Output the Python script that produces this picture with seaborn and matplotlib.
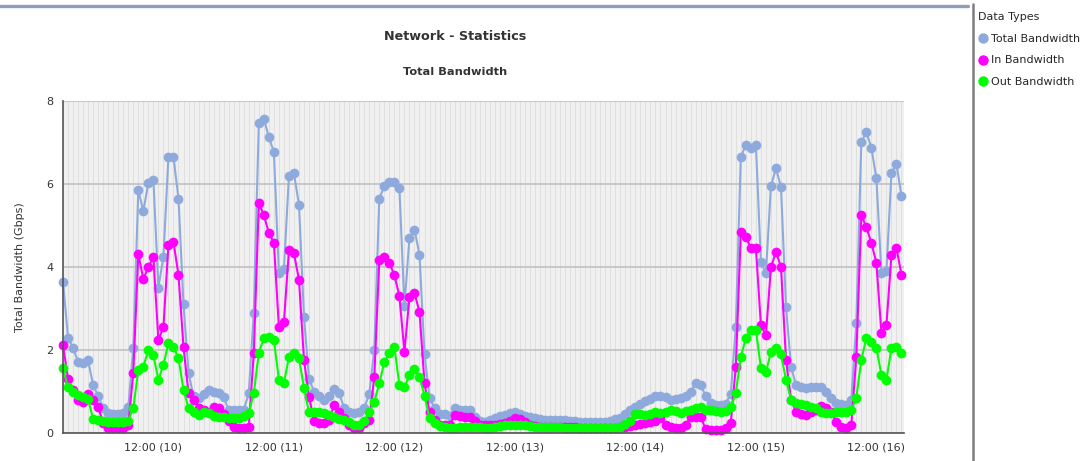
import pandas as pd
import matplotlib
matplotlib.use("Agg")
import matplotlib.pyplot as plt
import matplotlib.dates as mdates
from matplotlib.lines import Line2D
from matplotlib.ticker import FuncFormatter
import seaborn as sns

# hourly samples, one week starting 18:00 on day 9
start_time = "2013-06-09 18:00"

total_bw = [
    3.65, 2.3, 2.05, 1.72, 1.68, 1.75, 1.15, 0.9, 0.6, 0.48,
    0.45, 0.45, 0.47, 0.62, 2.05, 5.85, 5.35, 6.02, 6.1, 3.5,
    4.25, 6.65, 6.65, 5.65, 3.1, 1.45, 0.88, 0.84, 0.95, 1.04,
    1.0, 0.96, 0.87, 0.55, 0.55, 0.55, 0.55, 0.96, 2.9, 7.47,
    7.57, 7.13, 6.77, 3.85, 3.95, 6.2, 6.26, 5.5, 2.8, 1.3,
    1.0, 0.9, 0.8, 0.9, 1.05, 0.96, 0.6, 0.5, 0.48, 0.5,
    0.6, 0.95, 2.0, 5.65, 5.95, 6.05, 6.05, 5.9, 3.05, 4.7,
    4.9, 4.3, 1.9, 0.85, 0.6, 0.45, 0.45, 0.4, 0.6, 0.55,
    0.55, 0.55, 0.38, 0.3, 0.27, 0.32, 0.36, 0.4, 0.43, 0.47,
    0.5, 0.45, 0.4, 0.38, 0.36, 0.34, 0.32, 0.31, 0.31, 0.31,
    0.31, 0.29, 0.28, 0.27, 0.27, 0.27, 0.27, 0.27, 0.27, 0.3,
    0.33, 0.36, 0.45, 0.55, 0.62, 0.7, 0.78, 0.82, 0.9, 0.9,
    0.87, 0.8, 0.82, 0.84, 0.9, 0.99, 1.2, 1.15, 0.9, 0.72,
    0.68, 0.67, 0.7, 0.95, 2.55, 6.65, 6.94, 6.87, 6.94, 4.12,
    3.85, 5.95, 6.38, 5.93, 3.04, 1.6, 1.15, 1.1, 1.08, 1.1,
    1.1, 1.1, 0.98, 0.85, 0.72, 0.7, 0.67, 0.8, 2.65, 7.01,
    7.25, 6.87, 6.14, 3.85, 3.9, 6.26, 6.48, 5.71,
]

in_bw = [
    2.12, 1.3, 1.04, 0.8, 0.75, 0.95, 0.8, 0.62, 0.25, 0.13,
    0.12, 0.12, 0.13, 0.2, 1.45, 4.31, 3.71, 4.0, 4.24, 2.24,
    2.55, 4.53, 4.6, 3.81, 2.07, 0.96, 0.8, 0.6, 0.55, 0.5,
    0.62, 0.6, 0.45, 0.3, 0.15, 0.12, 0.12, 0.15, 1.93, 5.54,
    5.25, 4.82, 4.58, 2.55, 2.67, 4.41, 4.33, 3.69, 1.76, 0.87,
    0.3, 0.24, 0.24, 0.31, 0.67, 0.5, 0.35, 0.2, 0.12, 0.12,
    0.24, 0.31, 1.35, 4.17, 4.24, 4.1, 3.8, 3.3, 1.95, 3.28,
    3.37, 2.92, 1.2, 0.5, 0.31, 0.2, 0.19, 0.19, 0.43, 0.4,
    0.38, 0.38, 0.3, 0.2, 0.19, 0.19, 0.2, 0.22, 0.24, 0.3,
    0.36, 0.33, 0.27, 0.2, 0.16, 0.15, 0.15, 0.15, 0.15, 0.15,
    0.15, 0.15, 0.15, 0.12, 0.12, 0.12, 0.12, 0.12, 0.12, 0.12,
    0.13, 0.15, 0.15, 0.17, 0.19, 0.22, 0.24, 0.26, 0.3, 0.36,
    0.2, 0.15, 0.13, 0.12, 0.2, 0.38, 0.38, 0.38, 0.1, 0.07,
    0.07, 0.07, 0.12, 0.24, 1.6, 4.84, 4.72, 4.46, 4.46, 2.6,
    2.36, 4.0, 4.36, 4.0, 1.76, 0.8, 0.5, 0.45, 0.43, 0.5,
    0.55, 0.65, 0.6, 0.5, 0.27, 0.15, 0.12, 0.19, 1.83, 5.25,
    4.96, 4.58, 4.1, 2.41, 2.6, 4.29, 4.46, 3.81,
]

out_bw = [
    1.57, 1.1, 0.99, 0.92, 0.87, 0.82, 0.33, 0.31, 0.28, 0.27,
    0.27, 0.27, 0.27, 0.3, 0.6, 1.52, 1.6, 2.0, 1.88, 1.28,
    1.64, 2.17, 2.07, 1.8, 1.04, 0.6, 0.5, 0.43, 0.5, 0.48,
    0.42, 0.38, 0.38, 0.36, 0.36, 0.36, 0.4, 0.48, 0.96, 1.93,
    2.29, 2.31, 2.24, 1.28, 1.2, 1.83, 1.93, 1.8, 1.08, 0.5,
    0.5, 0.5, 0.48, 0.43, 0.38, 0.33, 0.31, 0.27, 0.2, 0.19,
    0.3, 0.5, 0.75, 1.2, 1.7, 1.93, 2.07, 1.15, 1.1, 1.4,
    1.55, 1.35, 0.9, 0.35, 0.24, 0.18, 0.15, 0.12, 0.13, 0.14,
    0.15, 0.15, 0.15, 0.14, 0.13, 0.12, 0.14, 0.17, 0.19, 0.19,
    0.19, 0.19, 0.19, 0.17, 0.15, 0.15, 0.15, 0.15, 0.15, 0.15,
    0.13, 0.12, 0.12, 0.12, 0.12, 0.12, 0.12, 0.12, 0.12, 0.12,
    0.12, 0.15, 0.22, 0.3, 0.45, 0.45, 0.43, 0.45, 0.5, 0.48,
    0.5, 0.55, 0.52, 0.48, 0.52, 0.55, 0.6, 0.62, 0.55, 0.55,
    0.52, 0.5, 0.52, 0.62, 0.96, 1.83, 2.29, 2.48, 2.48, 1.57,
    1.47, 1.95, 2.05, 1.9, 1.28, 0.8, 0.72, 0.7, 0.67, 0.63,
    0.6, 0.5, 0.48, 0.48, 0.5, 0.5, 0.5, 0.55, 0.84, 1.76,
    2.29, 2.19, 2.05, 1.4, 1.28, 2.05, 2.07, 1.93,
]

series_names = ["Total Bandwidth", "In Bandwidth", "Out Bandwidth"]
series_colors = ["#8eaadc", "#ff00ff", "#00ff00"]
y_ticks = [0, 2, 4, 6, 8]

times = pd.date_range(start_time, periods=len(total_bw), freq="h")
df = pd.DataFrame({"time": times, "Total Bandwidth": total_bw,
                   "In Bandwidth": in_bw, "Out Bandwidth": out_bw})
long_df = df.melt(id_vars="time", var_name="Data Types", value_name="Gbps")

sns.set_style("white")
plt.rcParams["font.family"] = ["DejaVu Sans"]

W, H = 1086, 461
fig = plt.figure(figsize=(W / 100, H / 100), dpi=100)
ax = fig.add_axes([63 / W, 1 - 433 / H, (904 - 63) / W, (433 - 101) / H])
ax.set_facecolor("#f0f0f0")

sns.lineplot(data=long_df, x="time", y="Gbps", hue="Data Types",
             hue_order=series_names, palette=dict(zip(series_names, series_colors)),
             marker="o", markersize=7, markeredgewidth=0, linewidth=1.5,
             legend=False, clip_on=False, ax=ax)

# axes, ticks and grid
ax.set_xlim(times[0], times[0] + pd.Timedelta(hours=167.5))
ax.set_ylim(0, 8)
ax.set_yticks(y_ticks)
ax.set_yticks([1, 3, 5, 7], minor=True)

ax.xaxis.set_major_locator(mdates.HourLocator(byhour=[0, 12]))
ax.xaxis.set_minor_locator(mdates.HourLocator(interval=1))


def fmt_time(v, pos):
    d = mdates.num2date(v)
    return f"12:00 ({d.day})" if d.hour == 12 else ""


ax.xaxis.set_major_formatter(FuncFormatter(fmt_time))
ax.tick_params(axis="both", which="major", direction="out", length=4, width=1,
               color="#555555", labelsize=8, labelcolor="#333333", pad=3)
ax.tick_params(axis="y", which="minor", direction="out", length=4, width=1, color="#555555")
ax.tick_params(axis="x", which="minor", length=0)

ax.set_axisbelow(True)
ax.grid(axis="x", which="both", color="#dcdcdc", linewidth=0.6)
ax.grid(axis="y", which="major", color="#c4c4c4", linewidth=1.3)

for side in ["top", "right"]:
    ax.spines[side].set_visible(False)
for side in ["left", "bottom"]:
    ax.spines[side].set_color("#555555")
    ax.spines[side].set_linewidth(1.2)

ax.set_xlabel("")
ax.set_ylabel("Total Bandwidth (Gbps)", fontsize=8, color="#333333")
ax.yaxis.set_label_coords((25 - 63) / (904 - 63), 0.5)

# titles
fig.text(455 / W, 1 - 37 / H, "Network - Statistics", ha="center", va="center",
         fontsize=9.2, fontweight="bold", color="#333333")
fig.text(455 / W, 1 - 72 / H, "Total Bandwidth", ha="center", va="center",
         fontsize=8.2, fontweight="bold", color="#333333")

# panel frame
fig.add_artist(Line2D([0, 968 / W], [1 - 6 / H, 1 - 6 / H], transform=fig.transFigure,
                      color="#8e9eb8", linewidth=2.4))
fig.add_artist(Line2D([973 / W, 973 / W], [0, 1 - 4 / H], transform=fig.transFigure,
                      color="#7d7d7d", linewidth=1.8))

# legend panel
handles = [Line2D([], [], marker="o", linestyle="none", color=c, markersize=7.5,
                  markeredgewidth=0) for c in series_colors]
fig.legend(handles, series_names, title="Data Types", loc="upper left",
           bbox_to_anchor=(977 / W, 1 - 11 / H), frameon=False, alignment="left",
           fontsize=8, title_fontsize=8, handlelength=0.8, handletextpad=0.35,
           labelspacing=1.05, borderpad=0.1, borderaxespad=0)

fig.savefig("out.png", dpi=100)
